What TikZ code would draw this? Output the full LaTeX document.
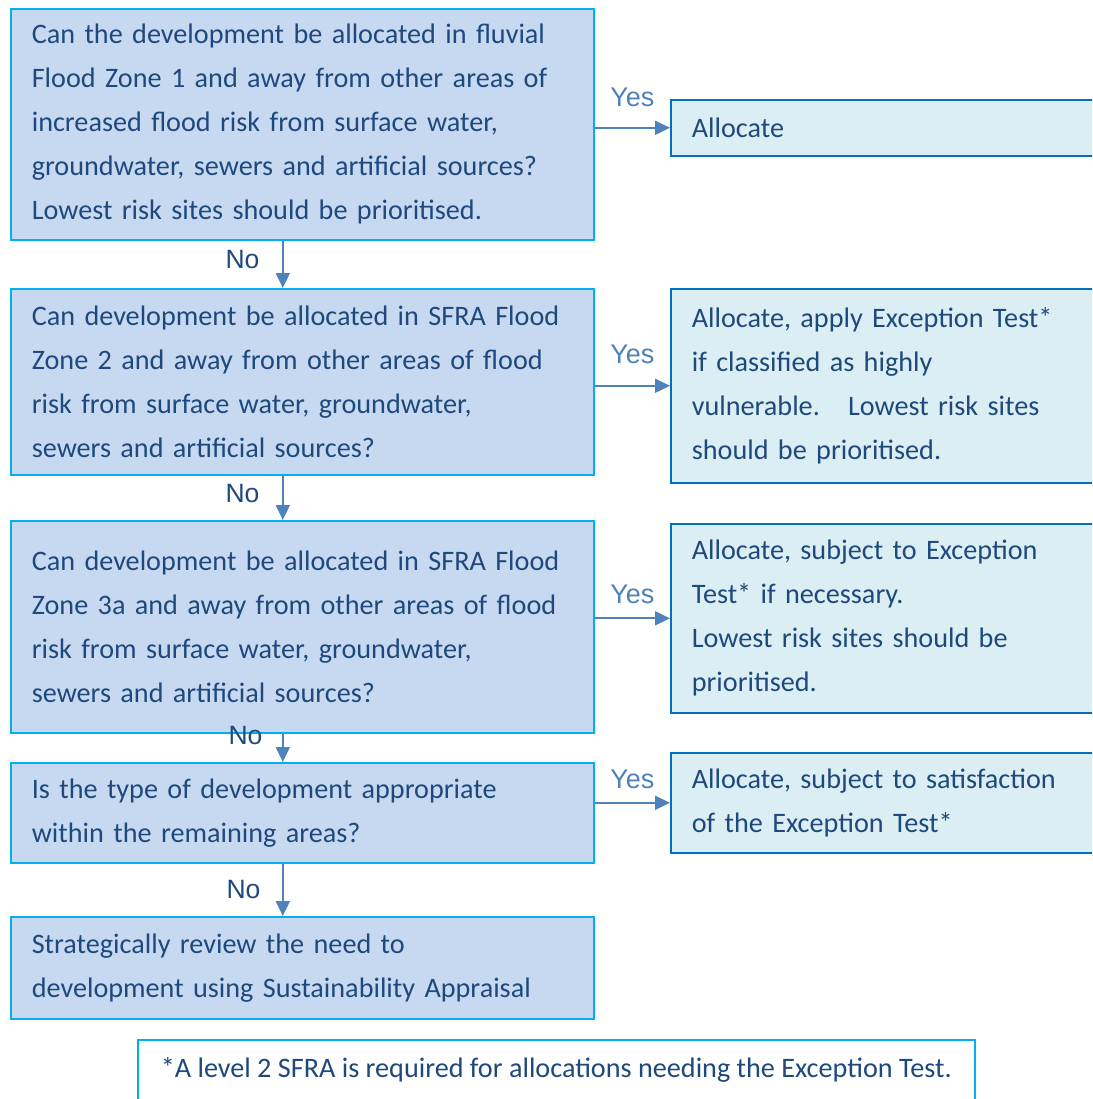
\documentclass[tikz,border=0pt]{standalone}
\usepackage{fontspec}
\setmainfont{Carlito}
\newfontfamily\lblfont{Liberation Sans}
\usetikzlibrary{arrows.meta,positioning}
\definecolor{sfdark}{HTML}{1F497D}
\definecolor{sfpale}{HTML}{C6D9F1}
\definecolor{sfcyan}{HTML}{00B0F0}
\definecolor{sfaqua}{HTML}{DAEEF3}
\definecolor{sfblue}{HTML}{0070C0}
\definecolor{sfarrow}{HTML}{4F81BD}
\tikzset{
  qbox/.style    = {rectangle, draw=sfcyan, line width=1.6pt, fill=sfpale, anchor=north west,
                     text width=541pt, inner xsep=21pt, inner ysep=0pt, align=left,
                     font=\fontsize{28.2}{44}\selectfont, text=sfdark},
  abox/.style    = {qbox, draw=sfblue, fill=sfaqua, text width=388pt},
  notebox/.style = {rectangle, draw=sfcyan, line width=1.6pt, fill=white, anchor=north west,
                     inner xsep=23pt, minimum height=60pt,
                     font=\fontsize{28.2}{44}\selectfont, text=sfdark},
  flow/.style    = {-{Triangle[length=15pt,width=14pt]}, line width=2pt, sfarrow},
  yeslbl/.style  = {font=\lblfont\fontsize{27}{27}\selectfont, text=sfarrow},
  nolbl/.style   = {font=\lblfont\fontsize{26.5}{27}\selectfont, text=sfdark},
}

\begin{document}
\begin{tikzpicture}[x=1pt,y=-1pt]
\useasboundingbox (0,0) rectangle (1092,1099);
\clip (0,0) rectangle (1092,1099);

% questions
\node[qbox, minimum height=231pt] (q1) at (10,8)
  {Can the development be allocated in fluvial\\ Flood Zone 1 and away from other areas of\\ increased flood risk from surface water,\\ groundwater, sewers and artificial sources?\\ Lowest risk sites should be prioritised.};
\node[qbox, minimum height=186pt] (q2) at (10,288)
  {Can development be allocated in SFRA Flood\\ Zone 2 and away from other areas of flood\\ risk from surface water, groundwater,\\ sewers and artificial sources?};
\node[qbox, minimum height=212pt] (q3) at (10,520)
  {Can development be allocated in SFRA Flood\\ Zone 3a and away from other areas of flood\\ risk from surface water, groundwater,\\ sewers and artificial sources?};
\node[qbox, minimum height=100pt] (q4) at (10,762)
  {Is the type of development appropriate\\ within the remaining areas?};
\node[qbox, minimum height=102pt] (q5) at (10,916)
  {Strategically review the need to\\ development using Sustainability Appraisal};

% outcomes
\node[abox, minimum height=56pt]  (a1) at (670,99)  {Allocate};
\node[abox, minimum height=194pt] (a2) at (670,288)
  {Allocate, apply Exception Test*\\ if classified as highly\\ vulnerable.\ \ \ Lowest risk sites\\ should be prioritised.};
\node[abox, minimum height=189pt] (a3) at (670,523)
  {Allocate, subject to Exception\\ Test* if necessary.\\ Lowest risk sites should be\\ prioritised.};
\node[abox, minimum height=100pt] (a4) at (670,752)
  {Allocate, subject to satisfaction\\ of the Exception Test*};

% footnote
\node[notebox] (note) at (137,1039)
  {*A level 2 SFRA is required for allocations needing the Exception Test.};

% yes branches
\draw[flow] (q1.east |- a1.west) -- (a1.west) node[yeslbl, midway, above=17pt] {Yes};
\draw[flow] (q2.east |- a2.west) -- (a2.west) node[yeslbl, midway, above=18pt] {Yes};
\draw[flow] (q3.east |- a3.west) -- (a3.west) node[yeslbl, midway, above=10pt] {Yes};
\draw[flow] (q4.east |- a4.west) -- (a4.west) node[yeslbl, midway, above=10pt] {Yes};

% no branches
\draw[flow] ([xshift=-19.5pt]q1.south) -- ([xshift=-19.5pt]q2.north) node[nolbl, pos=0.4, left=19pt] {No};
\draw[flow] ([xshift=-19.5pt]q2.south) -- ([xshift=-19.5pt]q3.north) node[nolbl, pos=0.4, left=19pt] {No};
\draw[flow] ([xshift=-19.5pt]q3.south) -- ([xshift=-19.5pt]q4.north) node[nolbl, pos=0.05, left=16pt] {No};
\draw[flow] ([xshift=-19.5pt]q4.south) -- ([xshift=-19.5pt]q5.north) node[nolbl, pos=0.5, left=18pt] {No};
\end{tikzpicture}
\end{document}
